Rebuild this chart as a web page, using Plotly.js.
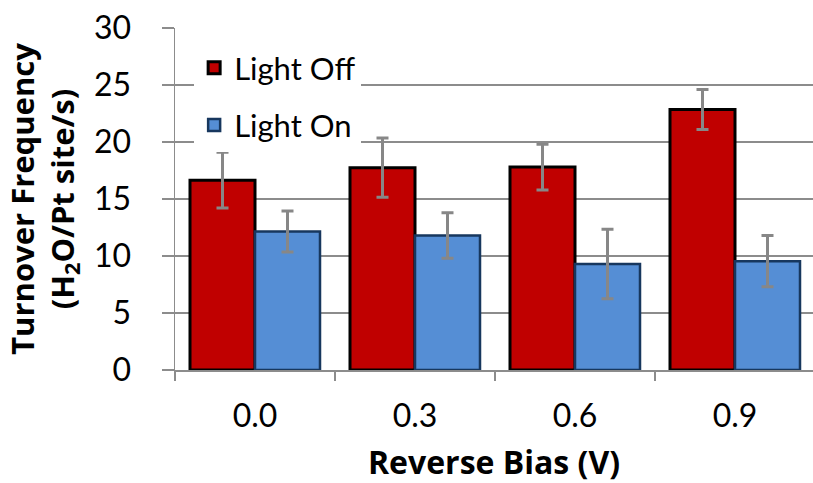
<!DOCTYPE html>
<html>
<head>
<meta charset="utf-8">
<script src="https://cdn.plot.ly/plotly-3.0.1.min.js"></script>
<style>html,body{margin:0;padding:0;background:#fff;}#chart{width:813px;height:483px;}</style>
</head>
<body>
<div id="chart"></div>
<script>
const categories = ["0.0", "0.3", "0.6", "0.9"];
const lightOff = [16.65, 17.75, 17.8, 22.85];
const lightOffErr = [2.45, 2.6, 2.0, 1.75];
const lightOn = [12.15, 11.8, 9.3, 9.55];
const lightOnErr = [1.8, 2.0, 3.05, 2.25];
const yTicks = [0, 5, 10, 15, 20, 25, 30];

const FONT = "Lato, 'Open Sans', sans-serif";
const BOLD = "'Open Sans', Lato, sans-serif";

const traces = [
  {
    type: "bar", name: "Light Off", x: categories, y: lightOff,
    legendgroup: "off",
    marker: { color: "#C00000", line: { color: "#000000", width: 3 } },
    error_y: { type: "data", array: lightOffErr, visible: true, color: "#878787", thickness: 3, width: 6 }
  },
  {
    type: "bar", name: "Light On", x: categories, y: lightOn,
    legendgroup: "on",
    marker: { color: "#558ED5", line: { color: "#17375E", width: 2.5 } },
    error_y: { type: "data", array: lightOnErr, visible: true, color: "#878787", thickness: 3, width: 6 }
  }
];

const layout = {
  width: 813, height: 483,
  margin: { l: 175, r: 0, t: 28, b: 113 },
  paper_bgcolor: "#ffffff", plot_bgcolor: "#ffffff",
  font: { family: FONT, size: 31, color: "#000000" },
  barmode: "group", bargap: 0.1875, bargroupgap: 0,
  showlegend: true,
  legend: {
    x: 0.03, y: 0.962, xanchor: "left", yanchor: "top",
    bgcolor: "#ffffff", font: { family: FONT, size: 31, color: "#000" },
    traceorder: "grouped", tracegroupgap: 14, itemwidth: 30
  },
  xaxis: {
    type: "category", range: [-0.5, 3.4875],
    showline: true, linecolor: "#8c8c8c", linewidth: 1.5,
    ticks: "outside", tickson: "boundaries", ticklen: 9, tickcolor: "#8c8c8c", tickwidth: 1.5,
    ticklabelstandoff: 17,
    tickfont: { family: FONT, size: 32 },
    showgrid: false,
    title: { text: "<b>Reverse Bias (V)</b>", font: { family: BOLD, size: 32 }, standoff: 20 }
  },
  yaxis: {
    range: [0, 30], tickvals: yTicks, ticktext: yTicks.map(String),
    showline: true, linecolor: "#8c8c8c", linewidth: 1.5,
    ticks: "outside", ticklen: 12, tickcolor: "#8c8c8c", tickwidth: 1.5,
    ticklabelstandoff: 24,
    tickfont: { family: FONT, size: 32 },
    showgrid: true, gridcolor: "#8c8c8c", gridwidth: 1.5,
    zeroline: false,
    title: { text: "<b>Turnover Frequency<br>(H<sub>2</sub>O/Pt site/s)</b>", font: { family: BOLD, size: 31 }, standoff: 10 }
  }
};

Plotly.newPlot("chart", traces, layout, { staticPlot: true, displayModeBar: false });
</script>
</body>
</html>
